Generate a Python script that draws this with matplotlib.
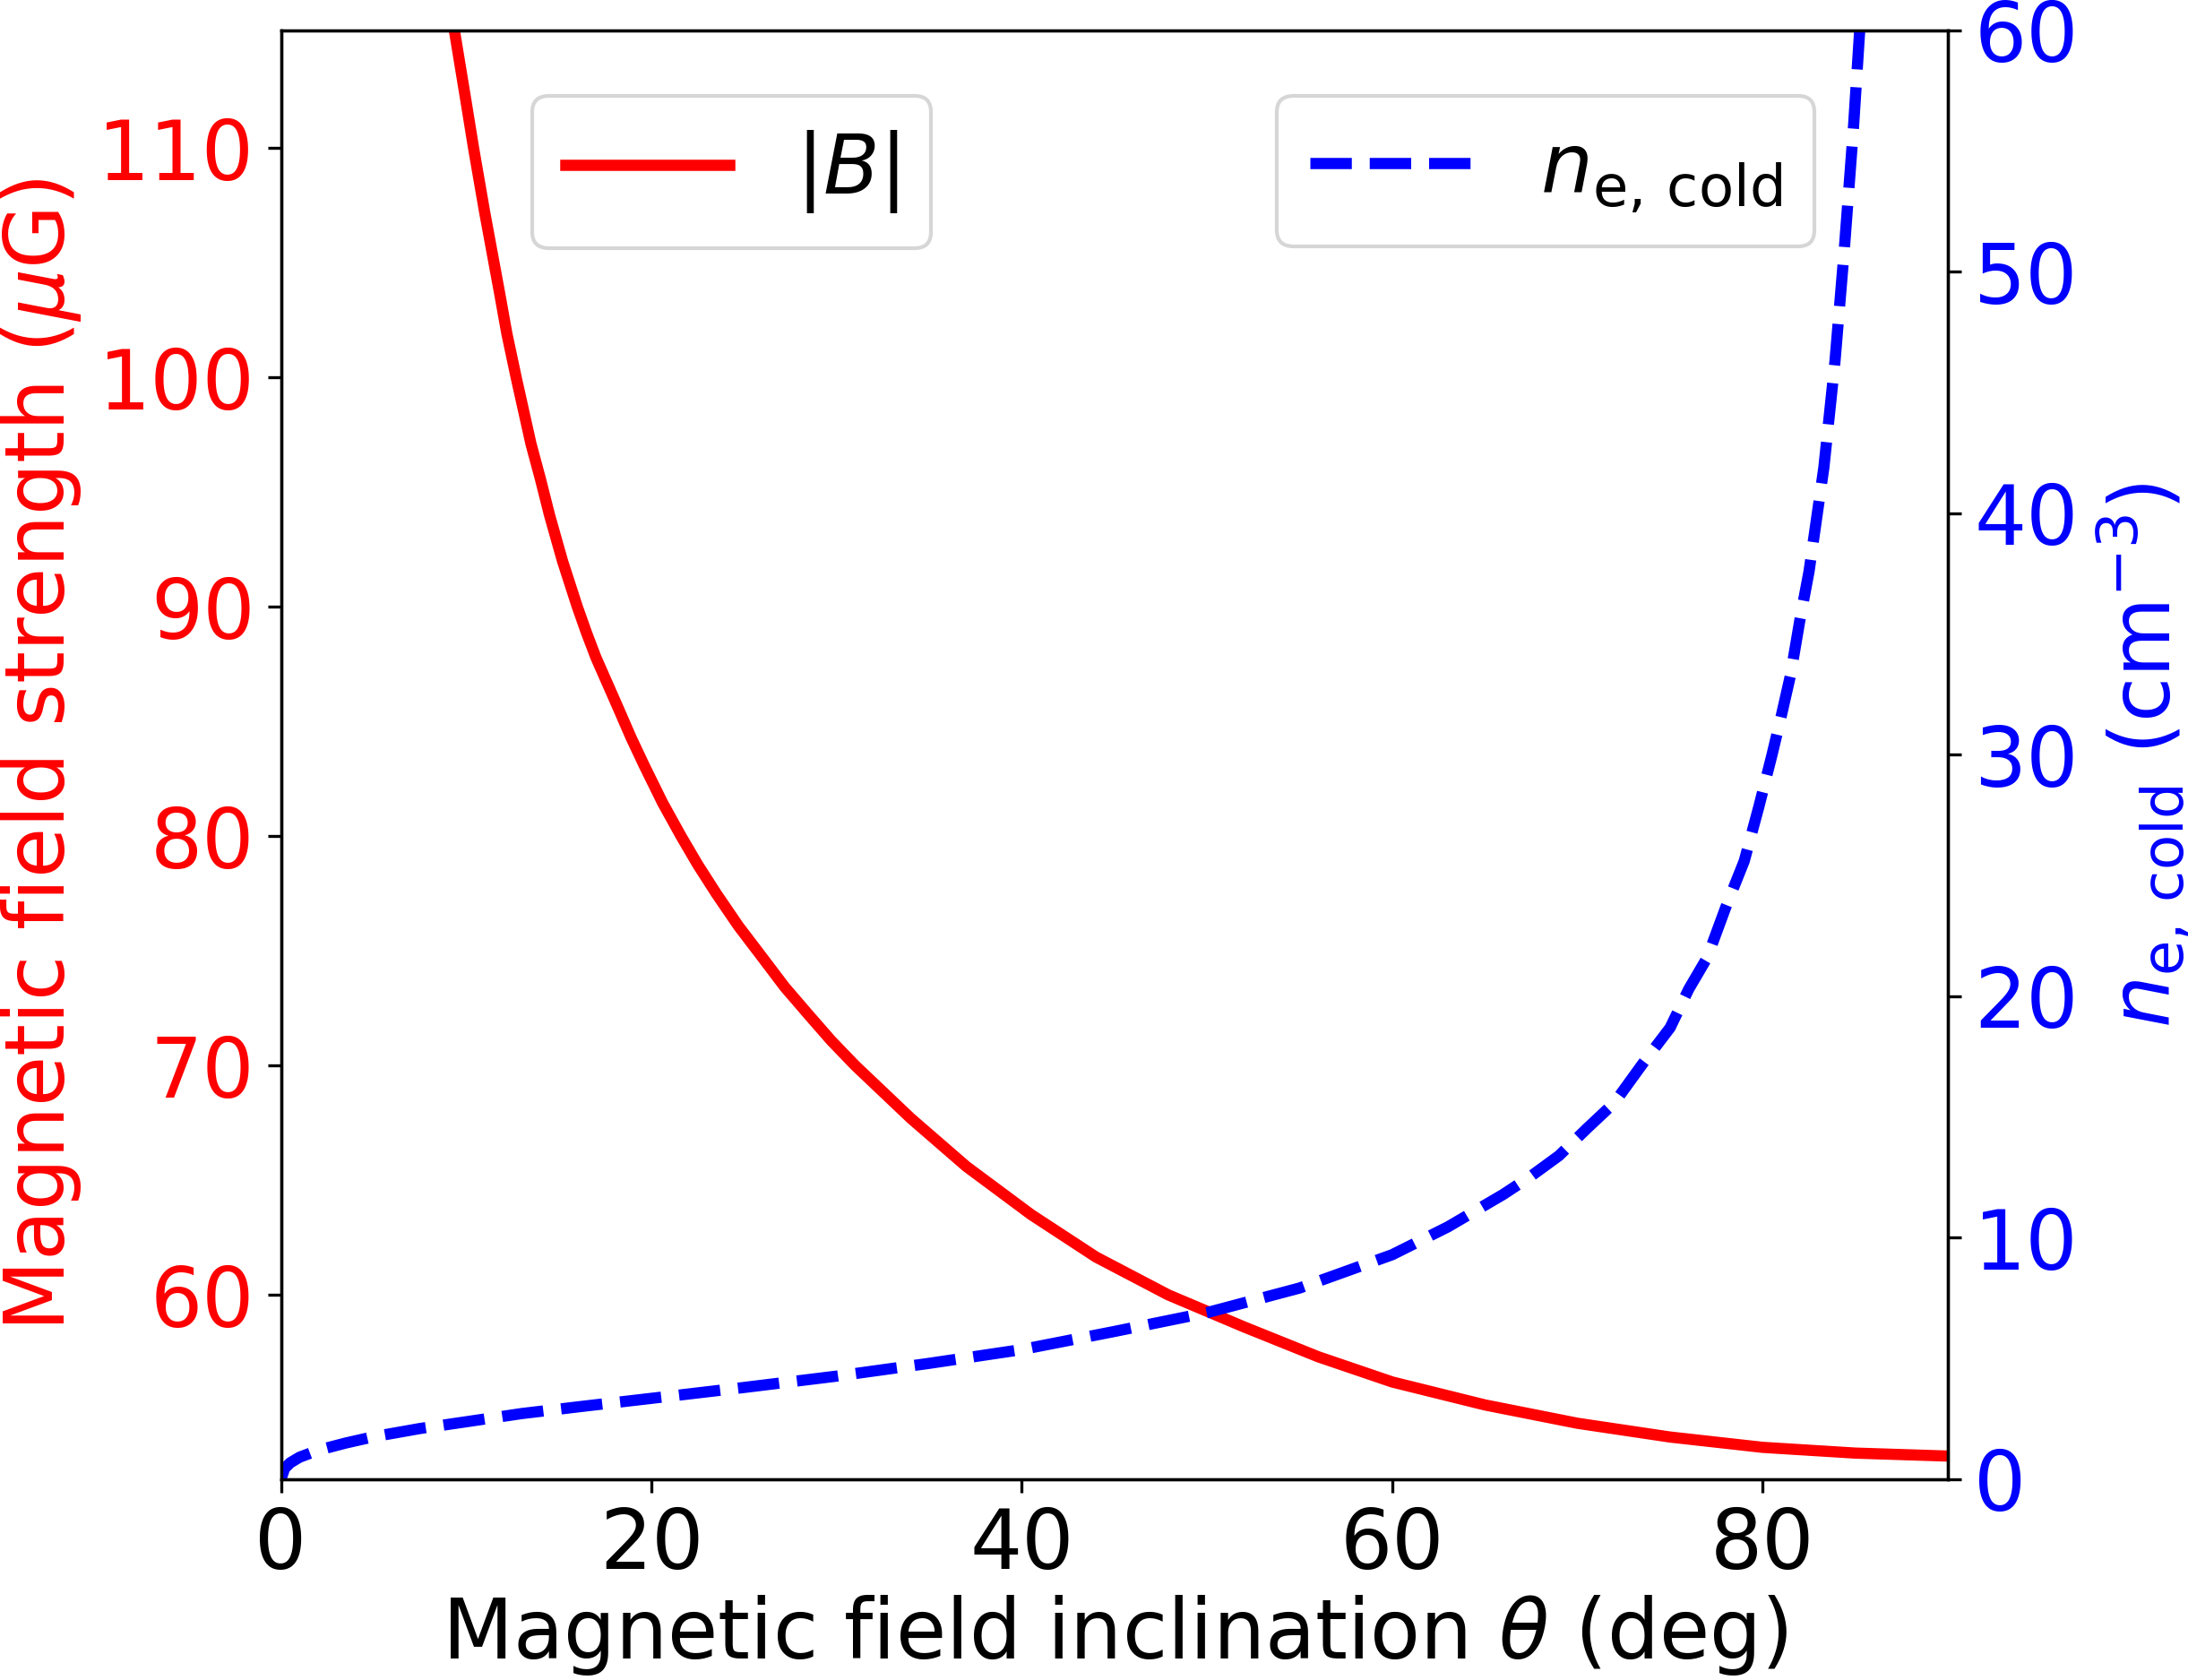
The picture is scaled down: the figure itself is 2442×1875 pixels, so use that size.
import matplotlib
matplotlib.use("Agg")
import matplotlib.pyplot as plt

# |B| (muG) vs inclination theta (deg)
theta_B = [9.35, 10.0, 10.4, 11.0, 11.8, 12.2, 12.7, 13.5, 14.0, 14.5, 15.2, 16.0,
           16.5, 17.0, 18.2, 18.9, 19.6, 20.6, 21.6, 22.5, 23.5, 24.7, 26.0, 27.2,
           28.5, 29.7, 31.0, 34.0, 37.0, 40.5, 44.0, 47.9, 52.0, 56.0, 60.0, 65.0,
           70.0, 75.0, 80.0, 85.0, 90.0]
B_vals = [115.2, 112.0, 110.0, 107.2, 103.7, 101.9, 100.0, 97.1, 95.6, 94.0, 92.0, 90.0,
          88.86, 87.8, 85.6, 84.3, 83.1, 81.46, 80.0, 78.76, 77.5, 76.08, 74.7, 73.42,
          72.2, 71.09, 70.0, 67.7, 65.6, 63.5, 61.65, 60.0, 58.6, 57.3, 56.2, 55.2,
          54.4, 53.8, 53.35, 53.1, 52.97]

# n_e,cold (cm^-3) vs inclination theta (deg)
theta_n = [0.0, 0.2, 0.5, 1.0, 2.0, 3.5, 5.0, 7.5, 10.0, 13.0, 16.4, 20.0, 25.0,
           30.0, 35.0, 40.0, 45.0, 50.0, 55.0, 60.0, 63.0, 66.0, 67.5, 69.0, 70.5,
           72.0, 73.5, 75.0, 76.0, 77.0, 78.0, 79.0, 79.8, 80.5, 81.0, 81.5, 82.0,
           82.5, 83.3, 83.9, 84.4, 84.9, 85.3]
n_vals = [0.0, 0.45, 0.68, 0.91, 1.2, 1.5, 1.76, 2.1, 2.38, 2.72, 3.03, 3.35, 3.8,
          4.27, 4.8, 5.37, 6.12, 6.9, 7.92, 9.3, 10.45, 11.8, 12.56, 13.4, 14.52,
          15.6, 17.19, 18.7, 20.29, 21.6, 23.68, 25.6, 27.88, 30.0, 31.61, 33.3, 35.56,
          37.6, 41.9, 46.3, 50.9, 56.0, 60.8]

x_ticks = [0, 20, 40, 60, 80]
B_ticks = [60, 70, 80, 90, 100, 110]
n_ticks = [0, 10, 20, 30, 40, 50, 60]

FS = 22

fig = plt.figure(figsize=(2442 / 300, 1875 / 300), dpi=300)
ax1 = fig.add_axes([0.1284, 0.1195, 0.8903 - 0.1284, 0.9819 - 0.1195])
ax2 = ax1.twinx()

l1, = ax1.plot(theta_B, B_vals, color="#ff0000", lw=3, label=r"$|B|$")
l2, = ax2.plot(theta_n, n_vals, color="#0000ff", lw=3, ls="--",
               label=r"$n_{\rm e,\,cold}$")

ax1.set_xlim(0, 90)
ax1.set_ylim(51.96, 115.13)
ax2.set_ylim(0, 60)

ax1.set_xticks(x_ticks)
ax1.set_yticks(B_ticks)
ax2.set_yticks(n_ticks)

ax1.tick_params(axis="x", labelsize=FS, labelcolor="black")
ax1.tick_params(axis="y", labelsize=FS, labelcolor="#ff0000")
ax2.tick_params(axis="y", labelsize=FS, labelcolor="#0000ff")

ax1.set_xlabel(r"Magnetic field inclination $\theta$ (deg)", fontsize=FS, labelpad=2)
ax1.set_ylabel(r"Magnetic field strength ($\mu$G)", fontsize=FS, color="#ff0000", labelpad=4)
ax2.set_ylabel(r"$n_{\rm e,\,cold}$ (cm$^{-3}$)", fontsize=FS, color="#0000ff", labelpad=4)

ax1.legend(handles=[l1], loc="upper left", bbox_to_anchor=(0.151, 0.955),
           borderaxespad=0, fontsize=FS)
ax2.legend(handles=[l2], loc="upper right", bbox_to_anchor=(0.92, 0.955),
           borderaxespad=0, fontsize=FS)

fig.savefig("out.png", dpi=300)
